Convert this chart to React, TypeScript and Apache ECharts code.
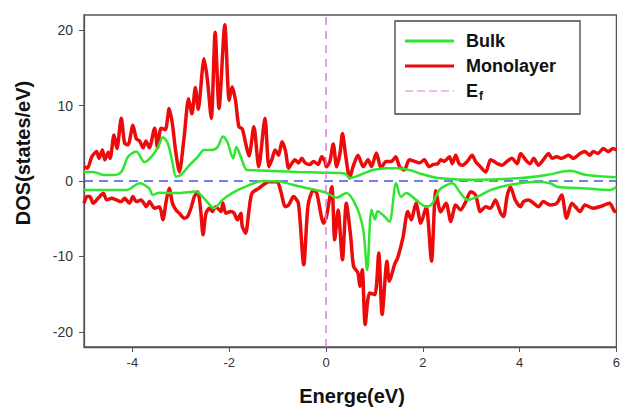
import React, { useEffect, useRef } from "react";
import * as echarts from "echarts";

// Energy (eV) vs DOS (states/eV)
const bulkUp: number[][] = [
  [-5.0, 1.2], [-4.81, 1.2], [-4.6, 0.8], [-4.4, 0.8], [-4.23, 1.2], [-4.09, 3.2], [-3.92, 3.9],
  [-3.75, 2.5], [-3.61, 3.2], [-3.47, 4.5], [-3.37, 5.8], [-3.27, 5.0], [-3.17, 2.4], [-3.1, 0.6],
  [-3.0, 0.8], [-2.82, 2.1], [-2.65, 3.2], [-2.52, 4.1], [-2.38, 4.1], [-2.24, 4.5], [-2.13, 5.9],
  [-2.04, 5.2], [-1.92, 3.0], [-1.85, 4.5], [-1.76, 3.2], [-1.63, 1.45], [-1.39, 1.4], [-1.0, 1.3],
  [-0.6, 1.2], [-0.05, 1.1], [0.39, 1.0], [0.49, 0.4], [0.7, 0.8], [0.97, 1.45], [1.24, 1.7],
  [1.45, 1.7], [1.72, 1.45], [1.99, 0.9], [2.31, 0.4], [3.13, 0.15], [3.95, 0.35], [4.56, 0.8],
  [5.04, 1.36], [5.38, 0.8], [6.0, 0.5],
];

const bulkDown: number[][] = [
  [-5.0, -1.2], [-4.67, -1.2], [-4.12, -1.2], [-3.85, -0.3], [-3.65, -1.0], [-3.58, -1.85],
  [-3.44, -1.55], [-3.03, -1.6], [-2.69, -1.4], [-2.52, -2.3], [-2.31, -3.6], [-2.14, -2.5],
  [-1.94, -1.6], [-1.66, -0.75], [-1.32, 0.0], [-1.0, -0.05], [-0.57, -0.7], [-0.02, -1.5],
  [0.22, -2.2], [0.42, -1.6], [0.63, -3.4], [0.77, -6.5], [0.85, -11.8], [0.94, -3.8], [1.01, -5.1],
  [1.07, -4.0], [1.21, -4.7], [1.31, -5.4], [1.45, -0.3], [1.55, -2.1], [1.66, -1.6], [1.86, -2.5],
  [2.07, -3.4], [2.2, -2.95], [2.34, -1.2], [2.5, -0.5], [2.61, -0.3], [2.78, -1.6], [2.92, -2.5],
  [3.13, -2.1], [3.4, -1.2], [3.81, -0.5], [4.36, -0.1], [4.63, -0.3], [4.77, -0.75], [5.38, -1.0],
  [5.86, -1.2], [6.0, -0.8],
];

const monoUp: number[][] = [
  [-5.0, 1.9], [-4.93, 1.7], [-4.84, 3.2], [-4.74, 3.9], [-4.69, 3.0], [-4.62, 4.1], [-4.57, 2.8],
  [-4.5, 3.8], [-4.46, 3.0], [-4.38, 6.1], [-4.32, 4.3], [-4.23, 8.3], [-4.16, 5.0], [-4.09, 4.8],
  [-3.99, 7.4], [-3.92, 5.6], [-3.85, 5.3], [-3.78, 4.4], [-3.72, 5.3], [-3.65, 4.4], [-3.54, 7.0],
  [-3.48, 4.4], [-3.41, 7.0], [-3.32, 6.8], [-3.24, 9.6], [-3.17, 7.4], [-3.11, 4.1], [-3.03, 1.2],
  [-2.93, 5.9], [-2.84, 10.9], [-2.77, 8.9], [-2.7, 12.4], [-2.64, 9.5], [-2.52, 16.2], [-2.45, 13.4],
  [-2.37, 8.3], [-2.29, 19.7], [-2.21, 9.6], [-2.09, 20.7], [-2.0, 10.7], [-1.94, 12.5], [-1.87, 10.7],
  [-1.8, 7.2], [-1.73, 6.9], [-1.66, 5.0], [-1.59, 3.3], [-1.49, 7.2], [-1.39, 1.9], [-1.26, 8.3],
  [-1.18, 1.9], [-1.12, 2.8], [-1.05, 4.1], [-0.98, 3.4], [-0.91, 5.2], [-0.84, 4.1], [-0.77, 1.7],
  [-0.7, 2.4], [-0.64, 2.8], [-0.57, 2.4], [-0.5, 3.0], [-0.43, 2.4], [-0.33, 2.2], [-0.26, 2.6],
  [-0.16, 2.2], [-0.09, 3.2], [-0.02, 2.6], [0.01, 1.9], [0.08, 2.6], [0.15, 4.9], [0.22, 1.9],
  [0.29, 3.7], [0.34, 6.3], [0.41, 3.2], [0.49, 0.4], [0.56, 1.9], [0.66, 3.4], [0.77, 1.9],
  [0.87, 2.8], [0.94, 1.9], [1.04, 3.7], [1.14, 1.7], [1.24, 2.6], [1.35, 2.6], [1.44, 3.2],
  [1.52, 1.9], [1.62, 1.45], [1.72, 2.8], [1.83, 2.6], [1.93, 2.4], [2.03, 2.8], [2.13, 1.9],
  [2.22, 2.2], [2.31, 2.3], [2.37, 2.8], [2.44, 2.6], [2.55, 3.2], [2.61, 2.3], [2.68, 3.4],
  [2.75, 2.3], [2.82, 2.1], [2.92, 2.6], [3.02, 3.4], [3.09, 2.6], [3.16, 2.1], [3.3, 1.2],
  [3.4, 2.8], [3.47, 2.6], [3.54, 2.3], [3.64, 2.1], [3.74, 2.6], [3.84, 3.0], [3.95, 2.3],
  [4.02, 3.65], [4.08, 3.2], [4.15, 2.6], [4.22, 2.3], [4.29, 3.0], [4.39, 2.1], [4.49, 2.8],
  [4.6, 3.65], [4.67, 3.0], [4.77, 3.2], [4.87, 3.0], [5.01, 3.4], [5.11, 3.0], [5.25, 3.65],
  [5.35, 3.9], [5.45, 3.4], [5.52, 3.9], [5.62, 3.65], [5.73, 4.3], [5.83, 3.9], [5.93, 4.3],
  [6.0, 4.1],
];

const monoDown: number[][] = [
  [-5.0, -2.95], [-4.94, -2.07], [-4.88, -2.07], [-4.81, -2.95], [-4.71, -2.3], [-4.6, -1.63],
  [-4.53, -2.51], [-4.43, -2.3], [-4.33, -2.51], [-4.23, -2.73], [-4.16, -2.3], [-4.06, -2.95],
  [-3.99, -2.07], [-3.92, -2.73], [-3.82, -2.51], [-3.71, -3.4], [-3.65, -2.73], [-3.54, -3.61],
  [-3.44, -3.4], [-3.37, -5.15], [-3.3, -2.6], [-3.24, -0.97], [-3.17, -3.0], [-3.1, -3.83],
  [-3.03, -4.27], [-2.93, -4.93], [-2.86, -4.71], [-2.79, -3.61], [-2.72, -2.07], [-2.65, -1.41],
  [-2.59, -3.83], [-2.54, -7.13], [-2.48, -4.27], [-2.41, -3.61], [-2.35, -4.05], [-2.28, -3.4],
  [-2.17, -4.05], [-2.13, -2.9], [-2.07, -4.27], [-1.97, -4.05], [-1.9, -4.27], [-1.83, -5.15],
  [-1.76, -4.27], [-1.73, -6.03], [-1.66, -6.91], [-1.59, -3.83], [-1.53, -1.63], [-1.39, -0.97],
  [-1.25, -0.31], [-1.18, -0.09], [-1.01, -0.09], [-0.94, -1.19], [-0.84, -3.4], [-0.77, -3.17],
  [-0.67, -2.07], [-0.57, -2.95], [-0.46, -11.1], [-0.37, -3.2], [-0.26, -1.19], [-0.19, -1.63],
  [-0.05, -5.59], [0.01, -4.71], [0.12, -0.75], [0.18, -7.79], [0.25, -3.83], [0.34, -10.43],
  [0.42, -2.95], [0.51, -7.35], [0.57, -11.32], [0.66, -12.2], [0.7, -13.96], [0.75, -11.76],
  [0.81, -19.02], [0.9, -14.84], [1.01, -15.06], [1.09, -9.55], [1.16, -17.7], [1.26, -10.65],
  [1.31, -13.3], [1.42, -11.0], [1.48, -10.2], [1.59, -7.5], [1.69, -4.05], [1.76, -5.15],
  [1.86, -2.95], [1.96, -5.59], [2.07, -3.4], [2.18, -10.65], [2.27, -1.3], [2.37, -4.1],
  [2.48, -2.95], [2.58, -5.37], [2.68, -3.17], [2.78, -3.83], [2.89, -2.73], [2.99, -1.41],
  [3.09, -1.85], [3.19, -4.05], [3.3, -3.4], [3.4, -3.61], [3.5, -2.51], [3.61, -4.27],
  [3.67, -4.71], [3.74, -2.07], [3.81, -0.75], [3.91, -2.51], [4.02, -3.4], [4.08, -2.73],
  [4.19, -2.51], [4.29, -2.95], [4.39, -3.4], [4.49, -2.73], [4.63, -3.17], [4.77, -2.95],
  [4.87, -1.85], [4.97, -4.93], [5.08, -2.95], [5.18, -3.61], [5.25, -4.05], [5.35, -3.17],
  [5.52, -3.61], [5.66, -3.4], [5.86, -2.95], [5.97, -4.05], [6.0, -4.0],
];

const fermiLine: number[][] = [[0, -22], [0, 22]];
const zeroLine: number[][] = [[-5, 0], [6, 0]];
const xTicks = [-4, -2, 0, 2, 4, 6];
const yTicks = [-20, -10, 0, 10, 20];
const legendNames = ["Bulk", "Monolayer", "Ef"];

const FONT = "'Liberation Sans', Arial, Helvetica, sans-serif";
const RED = "#ec0b0b";
const GREEN = "#2ee62e";
const PINK = "#e27ae2";
const BLUE = "#4656e6";
const DASH_ICON = "path://M0,0h8v1h-8zM12,0h8v1h-8zM24,0h8v1h-8zM36,0h8v1h-8zM48,0h1v1h-1z";

export default function App() {
  const ref = useRef<HTMLDivElement>(null);
  useEffect(() => {
    if (!ref.current) return;
    const chart = echarts.init(ref.current, undefined, { renderer: "svg" });
    const redLine = { color: RED, width: 3.5 };
    const greenLine = { color: GREEN, width: 2.5 };
    chart.setOption({
      animation: false,
      backgroundColor: "#ffffff",
      textStyle: { fontFamily: FONT },
      grid: {
        left: 84,
        right: 3,
        top: 15,
        bottom: 60,
        show: true,
        borderColor: "#555",
        borderWidth: 1.3,
        containLabel: false,
      },
      xAxis: {
        type: "value",
        min: -5,
        max: 6,
        axisLine: { show: true, onZero: false, lineStyle: { color: "#555", width: 1.3 } },
        axisTick: { show: true, inside: false, length: 5, customValues: xTicks, lineStyle: { color: "#555" } },
        axisLabel: { customValues: xTicks, color: "#333", fontSize: 13, margin: 9, fontFamily: FONT },
        splitLine: { show: false },
      },
      yAxis: {
        type: "value",
        min: -22,
        max: 22,
        axisLine: { show: true, onZero: false, lineStyle: { color: "#555", width: 1.3 } },
        axisTick: { show: true, inside: false, length: 5, customValues: yTicks, lineStyle: { color: "#555" } },
        axisLabel: { customValues: yTicks, color: "#333", fontSize: 14, margin: 11, fontFamily: FONT },
        splitLine: { show: false },
      },
      legend: {
        data: [
          { name: legendNames[0], icon: "rect" },
          { name: legendNames[1], icon: "rect" },
          { name: legendNames[2], icon: DASH_ICON },
        ],
        orient: "vertical",
        left: 395,
        top: 21,
        itemWidth: 49,
        itemHeight: 3,
        itemGap: 7,
        padding: [11, 24, 12, 10],
        borderColor: "#444",
        borderWidth: 1.3,
        backgroundColor: "#fff",
        selectedMode: false,
        textStyle: {
          fontFamily: FONT,
          fontSize: 18,
          fontWeight: "bold",
          color: "#111",
          padding: [0, 0, 0, 7],
          rich: {
            b: { fontSize: 18, fontWeight: "bold", color: "#111", fontFamily: FONT },
            s: { fontSize: 12, fontWeight: "bold", color: "#111", fontFamily: FONT, padding: [10, 0, 0, 1] },
          },
        },
        formatter: (name: string) => (name === "Ef" ? "{b|E}{s|f}" : name),
      },
      series: [
        {
          name: "zero",
          type: "line",
          data: zeroLine,
          showSymbol: false,
          symbol: "none",
          silent: true,
          lineStyle: { color: BLUE, type: [9, 6], width: 1.3 },
          itemStyle: { color: BLUE },
          z: 1,
        },
        {
          name: "Monolayer",
          type: "line",
          data: monoUp,
          showSymbol: false,
          symbol: "none",
          smooth: 0.25,
          lineStyle: redLine,
          itemStyle: { color: RED },
          z: 2,
        },
        {
          name: "Monolayer",
          type: "line",
          data: monoDown,
          showSymbol: false,
          symbol: "none",
          smooth: 0.25,
          lineStyle: redLine,
          itemStyle: { color: RED },
          z: 2,
        },
        {
          name: "Bulk",
          type: "line",
          data: bulkUp,
          showSymbol: false,
          symbol: "none",
          smooth: 0.3,
          lineStyle: greenLine,
          itemStyle: { color: GREEN },
          z: 3,
        },
        {
          name: "Bulk",
          type: "line",
          data: bulkDown,
          showSymbol: false,
          symbol: "none",
          smooth: 0.3,
          lineStyle: greenLine,
          itemStyle: { color: GREEN },
          z: 3,
        },
        {
          name: "Ef",
          type: "line",
          data: fermiLine,
          showSymbol: false,
          symbol: "none",
          lineStyle: { color: PINK, type: [8, 6], width: 1.5 },
          itemStyle: { color: PINK },
          z: 4,
        },
      ],
      graphic: [
        {
          type: "text",
          x: 23,
          y: 153,
          rotation: Math.PI / 2,
          style: {
            text: "DOS(states/eV)",
            fontFamily: FONT,
            fontSize: 20,
            fontWeight: "bold",
            fill: "#111",
            align: "center",
            verticalAlign: "middle",
          },
        },
        {
          type: "text",
          x: 352,
          y: 406,
          style: {
            text: "Energe(eV)",
            fontFamily: FONT,
            fontSize: 20,
            fontWeight: "bold",
            fill: "#111",
            align: "center",
            verticalAlign: "bottom",
          },
        },
      ],
    });
    return () => chart.dispose();
  }, []);
  return <div ref={ref} style={{ width: 623, height: 407, position: "absolute", left: 0, top: 0 }} />;
}
